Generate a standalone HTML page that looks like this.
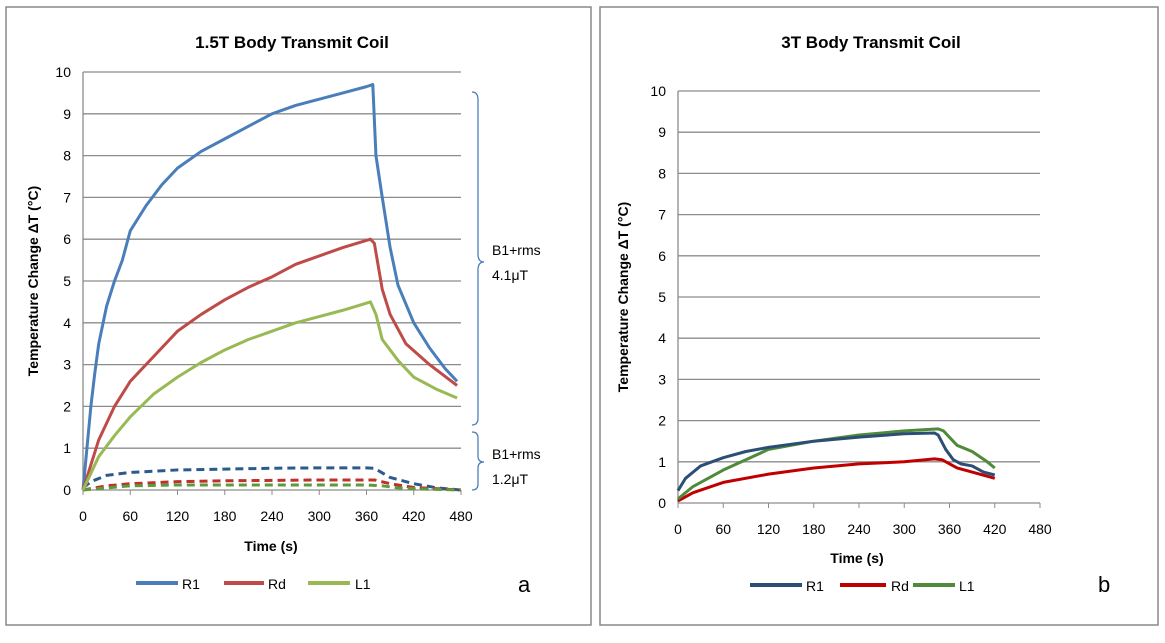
<!DOCTYPE html>
<html><head><meta charset="utf-8"><style>
body{margin:0;background:#fff;}
svg text{font-family:"Liberation Sans",sans-serif;}
</style></head><body>
<svg id="c" width="1165" height="638" xmlns="http://www.w3.org/2000/svg">
<rect x="6" y="7" width="585" height="618" fill="#fff" stroke="#888" stroke-width="1.5"/>
<rect x="600" y="7" width="558" height="618" fill="#fff" stroke="#888" stroke-width="1.5"/>
<g id="ga"></g><g id="gb"></g>
<text x="292" y="48" font-size="17" font-weight="bold" text-anchor="middle">1.5T  Body Transmit Coil</text>
<text x="871" y="48" font-size="17" font-weight="bold" text-anchor="middle">3T Body Transmit Coil</text>
<text x="271" y="551" font-size="14" font-weight="bold" text-anchor="middle">Time (s)</text>
<text x="857" y="563" font-size="14" font-weight="bold" text-anchor="middle">Time (s)</text>
<text transform="translate(38,281) rotate(-90)" font-size="14" font-weight="bold" text-anchor="middle">Temperature Change ΔT (°C)</text>
<text transform="translate(628,297) rotate(-90)" font-size="14" font-weight="bold" text-anchor="middle">Temperature Change ΔT (°C)</text>
<path d="M472,92 Q478,92 478,100 L478,254 Q478,262 484,262 Q478,262 478,270 L478,418 Q478,425 472,425" fill="none" stroke="#4a7ebb" stroke-width="1.3"/>
<path d="M472,432 Q478,432 478,438 L478,456 Q478,462 484,462 Q478,462 478,468 L478,484 Q478,490 472,490" fill="none" stroke="#4a7ebb" stroke-width="1.3"/>
<text x="492" y="255" font-size="14">B1+rms</text>
<text x="492" y="280" font-size="14">4.1μT</text>
<text x="492" y="459" font-size="14">B1+rms</text>
<text x="492" y="484" font-size="14">1.2μT</text>
<g>
<line x1="136" y1="583" x2="178" y2="583" stroke="#4a7ebb" stroke-width="4"/><text x="182" y="589" font-size="14">R1</text>
<line x1="224" y1="583" x2="264" y2="583" stroke="#be4b48" stroke-width="4"/><text x="268" y="589" font-size="14">Rd</text>
<line x1="308" y1="583" x2="350" y2="583" stroke="#98b954" stroke-width="4"/><text x="355" y="589" font-size="14">L1</text>
</g>
<g>
<line x1="750" y1="585" x2="802" y2="585" stroke="#2c4d75" stroke-width="4"/><text x="806" y="591" font-size="14">R1</text>
<line x1="840" y1="585" x2="886" y2="585" stroke="#c00000" stroke-width="4"/><text x="891" y="591" font-size="14">Rd</text>
<line x1="913" y1="585" x2="955" y2="585" stroke="#4f8a3a" stroke-width="4"/><text x="959" y="591" font-size="14">L1</text>
</g>
<text x="518" y="592" font-size="22">a</text>
<text x="1098" y="592" font-size="22">b</text>
</svg>
<script>
const xTicks=[0,60,120,180,240,300,360,420,480];
const yTicks=[0,1,2,3,4,5,6,7,8,9,10];
// Chart a (1.5T)
const aR1T=[0,5,10,15,20,30,40,50,60,80,100,120,150,180,210,240,270,300,330,360,368,372,380,390,400,420,440,460,475];
const aR1V=[0,1,2,2.8,3.5,4.4,5,5.5,6.2,6.8,7.3,7.7,8.1,8.4,8.7,9.0,9.2,9.35,9.5,9.65,9.7,8,7,5.8,4.9,4.0,3.4,2.9,2.6];
const aRdT=[0,20,40,60,90,120,150,180,210,240,270,300,330,365,370,380,390,410,440,475];
const aRdV=[0,1.2,2,2.6,3.2,3.8,4.2,4.55,4.85,5.1,5.4,5.6,5.8,6,5.9,4.8,4.2,3.5,3,2.5];
const aL1T=[0,20,40,60,90,120,150,180,210,240,270,300,330,365,372,380,400,420,450,475];
const aL1V=[0,0.8,1.3,1.75,2.3,2.7,3.05,3.35,3.6,3.8,4.0,4.15,4.3,4.5,4.2,3.6,3.1,2.7,2.4,2.2];
const aR1lowT=[0,10,30,60,120,180,240,300,360,370,390,420,450,480];
const aR1lowV=[0.05,0.2,0.35,0.42,0.48,0.5,0.52,0.53,0.53,0.52,0.3,0.15,0.05,0];
const aRdlowT=[0,30,60,120,180,240,300,360,370,390,420,480];
const aRdlowV=[0,0.1,0.15,0.2,0.22,0.23,0.24,0.24,0.24,0.15,0.06,0];
const aL1lowT=[0,60,120,360,380,400,420,480];
const aL1lowV=[0,0.1,0.12,0.12,0.1,0.05,0.03,0];
// Chart b (3T)
const bR1T=[0,10,30,60,90,120,180,240,300,340,345,355,365,375,390,405,420];
const bR1V=[0.3,0.6,0.9,1.1,1.25,1.35,1.5,1.6,1.68,1.7,1.65,1.3,1.05,0.95,0.9,0.75,0.68];
const bRdT=[0,20,60,120,180,240,300,340,350,370,390,420];
const bRdV=[0.05,0.25,0.5,0.7,0.85,0.95,1.0,1.07,1.05,0.85,0.75,0.6];
const bL1T=[0,20,60,90,120,180,240,300,345,352,370,390,410,420];
const bL1V=[0.1,0.4,0.8,1.05,1.3,1.5,1.65,1.75,1.8,1.75,1.4,1.25,1.0,0.85];

const NS='http://www.w3.org/2000/svg';
function mk(tag,attrs,parent){const e=document.createElementNS(NS,tag);for(const k in attrs)e.setAttribute(k,attrs[k]);parent.appendChild(e);return e;}
function chart(g,x0,x1,y0,y1,prefix){
  const sx=t=>x0+(x1-x0)*t/480, sy=v=>y0-(y0-y1)*v/10;
  yTicks.forEach(v=>{
    const l=mk('line',{x1:x0,x2:x1,y1:sy(v),y2:sy(v),stroke:'#8c8c8c','stroke-width':1.3},g);
    
    
    const t=mk('text',{x:x0-12,y:sy(v)+5,'font-size':14,'text-anchor':'end'},g);t.textContent=v;
    
    
  });
  const ax=mk('line',{x1:x0,x2:x0,y1:y1,y2:y0,stroke:'#8c8c8c','stroke-width':1.3},g);
  
  
  xTicks.forEach(v=>{
    mk('line',{x1:sx(v),x2:sx(v),y1:y0,y2:y0+5,stroke:'#8c8c8c'},g);
    const t=mk('text',{x:sx(v),y:y0+31,'font-size':14,'text-anchor':'middle'},g);t.textContent=v;
    
    
  });
  return (T,V,color,name,dash)=>{
    const p=mk('polyline',{points:T.map((t,i)=>sx(t)+','+sy(V[i])).join(' '),fill:'none',stroke:color,'stroke-width':3,'stroke-linejoin':'round'},g);
    if(dash)p.setAttribute('stroke-dasharray','8,5');
    
    
  };
}
const A=chart(document.getElementById('ga'),83,461,490,72,'chart-a');
A(aR1lowT,aR1lowV,'#2c5a8c','series-r1-low',true);
A(aRdlowT,aRdlowV,'#c0302c','series-rd-low',true);
A(aL1lowT,aL1lowV,'#5f9a3a','series-l1-low',true);
A(aR1T,aR1V,'#4a7ebb','series-r1-high');
A(aRdT,aRdV,'#be4b48','series-rd-high');
A(aL1T,aL1V,'#98b954','series-l1-high');
const B=chart(document.getElementById('gb'),678,1040,503,91,'chart-b');
B(bRdT,bRdV,'#c00000','series-rd');
B(bL1T,bL1V,'#4f8a3a','series-l1');
B(bR1T,bR1V,'#2c4d75','series-r1');
</script>
</body></html>
